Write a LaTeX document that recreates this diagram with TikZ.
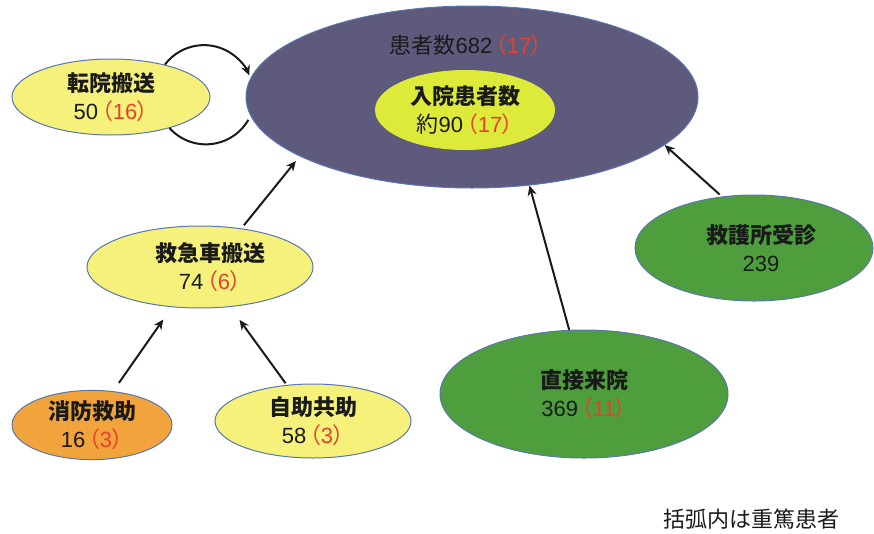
\documentclass[tikz,border=0pt]{standalone}
\usepackage{fontspec}
\setmainfont{Noto Sans CJK JP}[RawFeature={+palt}]
\newfontfamily\ar{Liberation Sans}
\usetikzlibrary{shapes.geometric,arrows.meta}
\definecolor{bigfill}{RGB}{94,90,124}
\definecolor{edgeblue}{RGB}{88,118,176}
\definecolor{yel}{RGB}{245,241,122}
\definecolor{innery}{RGB}{222,234,58}
\definecolor{orng}{RGB}{242,164,60}
\definecolor{grn}{RGB}{78,158,62}
\definecolor{redtxt}{RGB}{232,64,46}
\definecolor{txt}{RGB}{26,26,26}
\tikzset{
  oval/.style={ellipse, draw=edgeblue, line width=1pt, inner sep=0pt, align=center,
    font=\fontsize{22}{28}\selectfont, text=txt},
  conn/.style={line width=2pt, draw=txt, -{Stealth[length=10pt,width=9pt]}},
  plainline/.style={line width=2pt, draw=txt},
}
\newcommand\rd[1]{\textcolor{redtxt}{\,（{\ar #1}）}}
\newcommand\nm[1]{{\ar #1}}
\begin{document}
\begin{tikzpicture}[x=1pt,y=-1pt]
\useasboundingbox (0,0) rectangle (874,533);
% loop between transfer and total (behind the ovals)
\coordinate (lpa) at (164,65);
\coordinate (lpb) at (169,128);
% big ellipse
\node[oval, fill=bigfill, minimum width=452pt, minimum height=182pt] (big) at (472,97) {};
\node[font=\fontsize{22}{28}\selectfont, text=txt] (bigl) at (466,45) {患者数\nm{682}\rd{17}};
\node[oval, fill=innery, draw=none, minimum width=180pt, minimum height=80pt] (inp) at (465,110)
  {\bfseries 入院患者数\\約\nm{90}\rd{17}};
% other nodes
\node[oval, fill=yel, minimum width=198pt, minimum height=76pt] (ten) at (111,97)
  {\bfseries 転院搬送\\\nm{50}\rd{16}};
\node[oval, fill=yel, minimum width=226pt, minimum height=82pt] (qq) at (200,267)
  {\hspace*{20pt}\bfseries 救急車搬送\\\hspace*{20pt}\nm{74}\rd{6}};
\node[oval, fill=orng, minimum width=160pt, minimum height=66pt] (sb) at (92,425)
  {\bfseries 消防救助\\\nm{16}\rd{3}};
\node[oval, fill=yel, minimum width=196pt, minimum height=74pt] (jj) at (313,421)
  {\bfseries 自助共助\\\nm{58}\rd{3}};
\node[oval, fill=grn, minimum width=288pt, minimum height=128pt] (cr) at (584,394)
  {\bfseries 直接来院\\\nm{369}\rd{11}};
\node[oval, fill=grn, minimum width=238pt, minimum height=106pt] (kg) at (754,248)
  {\hspace*{14pt}\bfseries 救護所受診\\\hspace*{14pt}\nm{239}};
\node[font=\fontsize{22}{28}\selectfont, text=txt] (note) at (751,519) {括弧内は重篤患者};
% connectors
\draw[conn, shorten <=4pt, shorten >=6pt] (qq.43) -- (big.199);
\draw[conn, shorten <=10pt, shorten >=15pt] (sb.58) -- (qq.235);
\draw[conn, shorten <=2pt, shorten >=16pt] (jj.126) -- (qq.307);
\draw[conn] (cr.103) -- (big.303);
\draw[conn, shorten <=3pt] (kg.122) -- (big.346);
\draw[conn] (ten.31) arc[radius=49pt, start angle=143, end angle=22.5];
\draw[plainline] (ten.-28) arc[radius=49pt, start angle=222, end angle=330];
\end{tikzpicture}
\end{document}
